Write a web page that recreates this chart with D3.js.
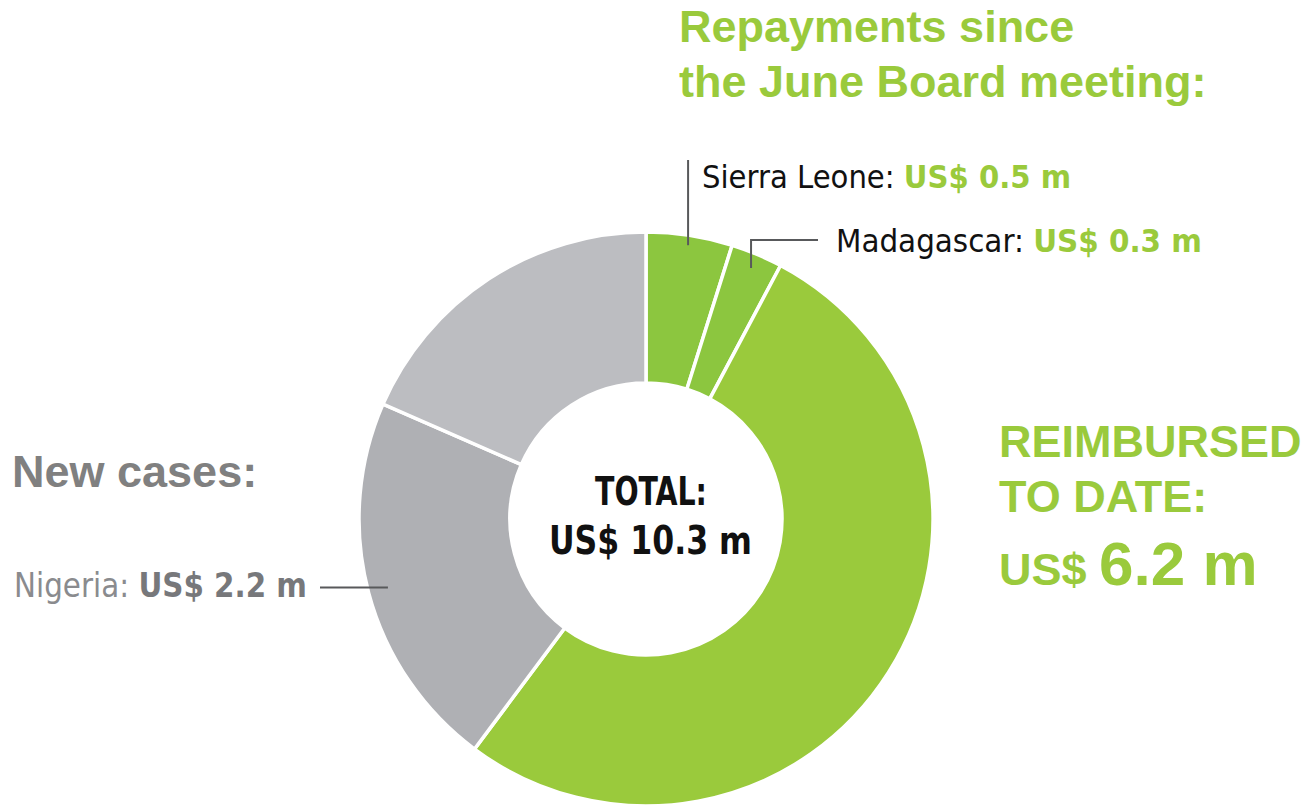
<!DOCTYPE html>
<html>
<head>
<meta charset="utf-8">
<script src="https://cdn.jsdelivr.net/npm/d3@7"></script>
<style>
  html, body { margin: 0; padding: 0; background: #fff; }
  svg { display: block; }
  .cond { font-family: "Liberation Sans Narrow", "DejaVu Sans Condensed", "Arial Narrow", sans-serif; }
  .head { font-family: "Liberation Sans", Arial, sans-serif; font-weight: bold; }
</style>
</head>
<body>
<svg id="chart" width="1306" height="809"></svg>
<script>
// Fund balance, US$ millions, clockwise from 12 o'clock
const segments = ["Sierra Leone", "Madagascar", "Reimbursed earlier", "Nigeria", "Other outstanding"];
const amounts  = [0.5, 0.3, 5.4, 2.2, 1.9];
const fills    = ["#8cc63f", "#8cc63f", "#9aca3c", "#afb0b4", "#bcbdc1"];
const totalAmount = 10.3;
const reimbursedAmount = 6.2;

const svg = d3.select("#chart");
const cx = 646, cy = 519, rOuter = 287, rInner = 136;
const g = svg.append("g").attr("transform", `translate(${cx},${cy})`);

const pie = d3.pie().sort(null).value(d => d.value);
const arcs = pie(segments.map((s, i) => ({ name: s, value: amounts[i], fill: fills[i] })));
const arc = d3.arc().innerRadius(rInner).outerRadius(rOuter);

g.selectAll("path.slice")
  .data(arcs)
  .join("path")
  .attr("class", "slice")
  .attr("d", arc)
  .attr("fill", d => d.data.fill)
  .attr("stroke", "#fff")
  .attr("stroke-width", 3.5)
  .attr("stroke-linejoin", "miter");

// point on a slice's mid-angle at radius r
const at = (d, r) => {
  const a = (d.startAngle + d.endAngle) / 2;
  return [r * Math.sin(a), -r * Math.cos(a)];
};

const lineColor = "#58595b";
// Sierra Leone leader: vertical
const [sx, sy] = at(arcs[0], 277);
g.append("path").attr("d", `M${sx},${sy}V${160 - cy}`)
  .attr("stroke", lineColor).attr("stroke-width", 2).attr("fill", "none");
// Madagascar leader: up then right
const [mx, my] = at(arcs[1], 272);
g.append("path").attr("d", `M${mx},${my}V${240 - cy}H${818 - cx}`)
  .attr("stroke", lineColor).attr("stroke-width", 2).attr("fill", "none");
// Nigeria leader: horizontal
const [nx, ny] = at(arcs[3], 267);
g.append("path").attr("d", `M${nx},${ny}H${320 - cx}`)
  .attr("stroke", lineColor).attr("stroke-width", 2).attr("fill", "none");

const fmt = v => `US$ ${d3.format(".1f")(v)} m`;
const green = "#9aca3c";

// condensed label, squeezed to a set width
const label = (x, y, size, width) => svg.append("text").attr("class", "cond")
  .attr("x", x).attr("y", y).attr("font-size", size)
  .attr("textLength", width).attr("lengthAdjust", "spacingAndGlyphs");

// Slice labels
const sl = label(702, 188, 32, 369);
sl.append("tspan").attr("fill", "#111").text(segments[0] + ": ");
sl.append("tspan").attr("fill", green).attr("font-weight", "bold").text(fmt(amounts[0]));

const ml = label(836, 252, 32, 366);
ml.append("tspan").attr("fill", "#111").text(segments[1] + ": ");
ml.append("tspan").attr("fill", green).attr("font-weight", "bold").text(fmt(amounts[1]));

const nl = label(14, 597, 34, 293);
nl.append("tspan").attr("fill", "#8a8b8e").text(segments[3] + ": ");
nl.append("tspan").attr("fill", "#77787b").attr("font-weight", "bold").text(fmt(amounts[3]));

// Centre total
label(595, 505, 39, 112).attr("font-weight", "bold").attr("fill", "#111").text("TOTAL:");
label(549, 554, 39, 203).attr("font-weight", "bold").attr("fill", "#111").text(fmt(totalAmount));

// Headings
const rep = svg.append("text").attr("class", "head").attr("font-size", 45).attr("fill", green);
rep.append("tspan").attr("x", 679).attr("y", 42).text("Repayments since");
rep.append("tspan").attr("x", 679).attr("y", 97).text("the June Board meeting:");

const rb = svg.append("text").attr("class", "head").attr("font-size", 45).attr("fill", green);
rb.append("tspan").attr("x", 999).attr("y", 457).text("REIMBURSED");
rb.append("tspan").attr("x", 999).attr("y", 512).text("TO DATE:");
const rv = svg.append("text").attr("class", "head").attr("x", 999).attr("y", 585).attr("fill", green);
rv.append("tspan").attr("font-size", 45).text("US$ ");
rv.append("tspan").attr("font-size", 62).text(`${d3.format(".1f")(reimbursedAmount)} m`);

svg.append("text").attr("class", "head").attr("x", 12).attr("y", 487)
  .attr("font-size", 45).attr("fill", "#808080").text("New cases:");
</script>
</body>
</html>
